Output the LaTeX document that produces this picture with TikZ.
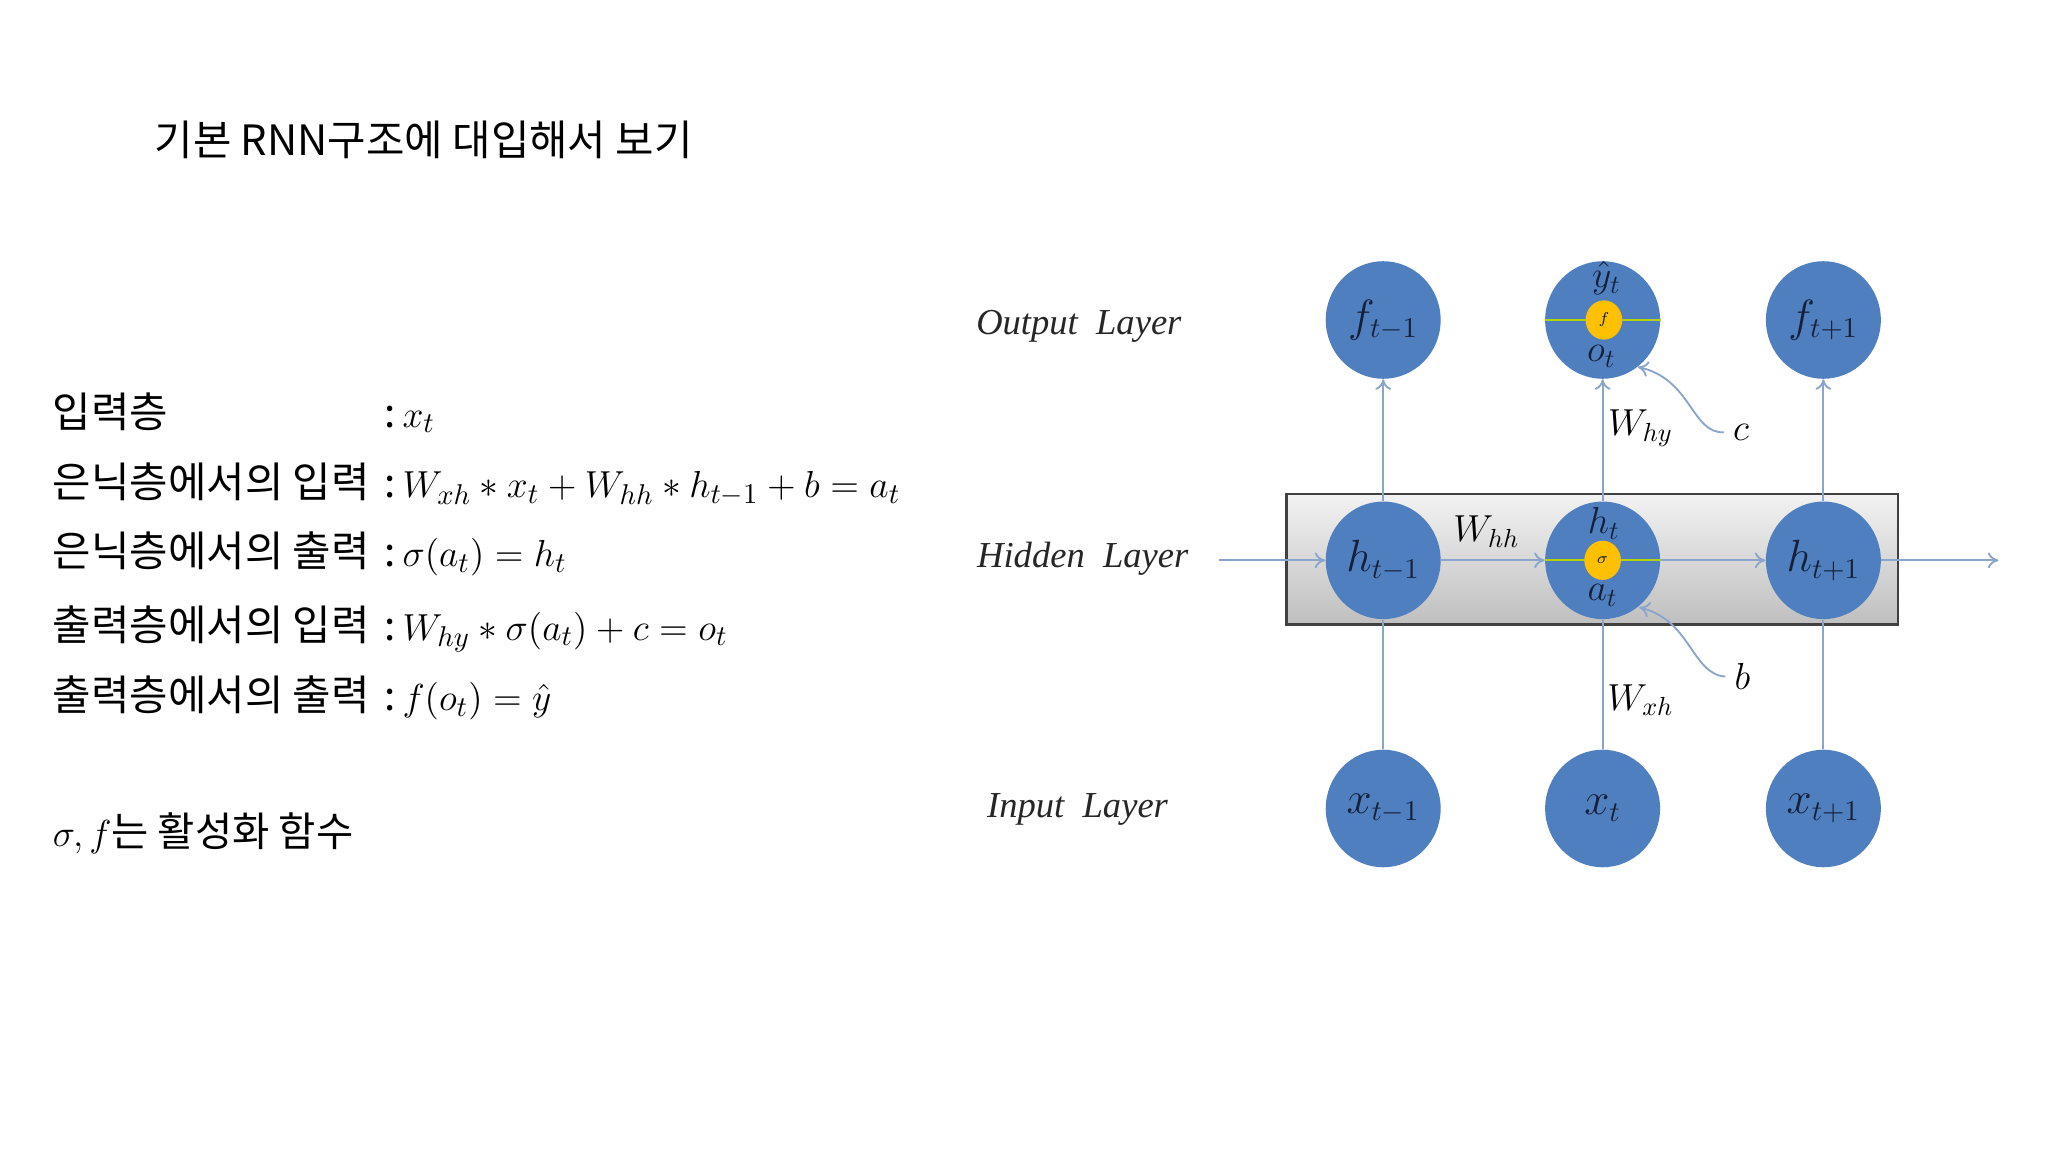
\documentclass[tikz,border=0pt]{standalone}
\usepackage{fontspec}
\usepackage{amsmath}
\newfontfamily\kr{Noto Sans CJK KR}
\newfontfamily\lay{Liberation Serif}
\usetikzlibrary{arrows.meta,shapes.geometric}
\definecolor{nb}{HTML}{4F7FBF}
\definecolor{ln}{HTML}{8AA4CC}
\definecolor{ink}{HTML}{15203A}
\definecolor{yel}{HTML}{FFC000}
\tikzset{
 unit/.style={ellipse,fill=nb,minimum width=44pt,minimum height=45pt,inner sep=0pt,text=ink,font=\fontsize{16}{18}\selectfont},
 dot/.style={ellipse,fill=yel,minimum width=14pt,minimum height=15pt,inner sep=0pt,text=ink,font=\fontsize{6}{7}\selectfont},
 arr/.style={draw=ln,line width=0.7pt,-{To[length=4pt,width=6pt]}},
 plain/.style={draw=ln,line width=0.7pt},
 laylab/.style={font=\lay\itshape\fontsize{14}{16}\selectfont,text=black!85},
 wlab/.style={font=\fontsize{14}{16}\selectfont,text=black},
 ctr/.style={text=ink,inner sep=0pt,font=\fontsize{14}{16}\selectfont},
 ktxt/.style={anchor=base west,inner sep=0pt,font=\kr\fontsize{16}{19}\selectfont},
 mtxt/.style={anchor=base west,inner sep=0pt,font=\fontsize{15.5}{18}\selectfont}
}
\begin{document}
\begin{tikzpicture}[x=0.5pt,y=-0.5pt]
\useasboundingbox (0,0) rectangle (1568,882);
\fill[white] (0,0) rectangle (1568,882);
% title
\node[ktxt] (title) at (118,119) {기본 RNN구조에 대입해서 보기};
% left text
\node[ktxt] (k1) at (40,327) {입력층};
\node[ktxt] (k2) at (40,381) {은닉층에서의 입력};
\node[ktxt] (k3) at (40,434) {은닉층에서의 출력};
\node[ktxt] (k4) at (40,490) {출력층에서의 입력};
\node[ktxt] (k5) at (40,544) {출력층에서의 출력};
\node[mtxt] (m1) at (294,327) {{\kr :}\,$x_t$};
\node[mtxt] (m2) at (294,381) {{\kr :}\,$W_{xh}*x_t+W_{hh}*h_{t-1}+b=a_t$};
\node[mtxt] (m3) at (294,434) {{\kr :}\,$\sigma(a_t)=h_t$};
\node[mtxt] (m4) at (294,490) {{\kr :}\,$W_{hy}*\sigma(a_t)+c=o_t$};
\node[mtxt] (m5) at (294,544) {{\kr :}\,$f(o_t)=\hat{y}$};
\node[mtxt] (act) at (40,648) {$\sigma,f$\kr 는 활성화 함수};
% hidden box
\shade[top color=black!5,bottom color=black!25,draw=black!75,line width=0.9pt] (985,378) rectangle (1453,478);
% layer labels
\node[laylab] (lo) at (826,250) {Output\ \ Layer};
\node[laylab] (lh) at (829,428) {Hidden\ \ Layer};
\node[laylab] (li) at (825,620) {Input\ \ Layer};
% units
\node[unit] (f1) at (1059,245) {$f_{t-1}$};
\node[unit] (f2) at (1227,245) {};
\node[unit] (f3) at (1396,245) {$f_{t+1}$};
\node[unit] (h1) at (1059,429) {$h_{t-1}$};
\node[unit] (h2) at (1227,429) {};
\node[unit] (h3) at (1396,429) {$h_{t+1}$};
\node[unit] (x1) at (1059,619) {$x_{t-1}$};
\node[unit] (x2) at (1227,619) {$x_t$};
\node[unit] (x3) at (1396,619) {$x_{t+1}$};
% center details
\draw[draw=yel!70!green,line width=0.7pt] (f2.west) -- (f2.east);
\draw[draw=yel!70!green,line width=0.7pt] (h2.west) -- (h2.east);
\node[dot] (fd) at (1228,245) {$f$};
\node[dot] (sd) at (1227,429) {$\sigma$};
\node[ctr] (yh) at (1230,213) {$\hat{y}_t$};
\node[ctr] (ot) at (1226,273) {$o_t$};
\node[ctr] (ht) at (1228,401) {$h_t$};
\node[ctr] (at) at (1227,456) {$a_t$};
% connectors
\coordinate (hin) at (933,429);
\coordinate (hout) at (1530,429);
\draw[arr] (hin) -- (h1);
\draw[arr] (h1) -- (h2);
\draw[arr] (h2) -- (h3);
\draw[arr] (h3) -- (hout);
\draw[arr] (h1) -- (f1);
\draw[arr] (h2) -- (f2);
\draw[arr] (h3) -- (f3);
\draw[plain] (x1) -- (h1);
\draw[plain] (x2) -- (h2);
\draw[plain] (x3) -- (h3);
% weights and biases
\node[wlab] (whh) at (1138,407) {$W_{hh}$};
\node[wlab] (why) at (1256,328) {$W_{hy}$};
\node[wlab] (wxh) at (1256,536) {$W_{xh}$};
\node[wlab] (c) at (1333,331) {$c$};
\node[wlab] (b) at (1334,518) {$b$};
\coordinate (oe) at (1254,281);
\coordinate (ae) at (1255,465);
\draw[arr] (c.west) .. controls (1295,332) and (1295,290) .. (oe);
\draw[arr] (b.west) .. controls (1295,516) and (1295,475) .. (ae);
\end{tikzpicture}
\end{document}
